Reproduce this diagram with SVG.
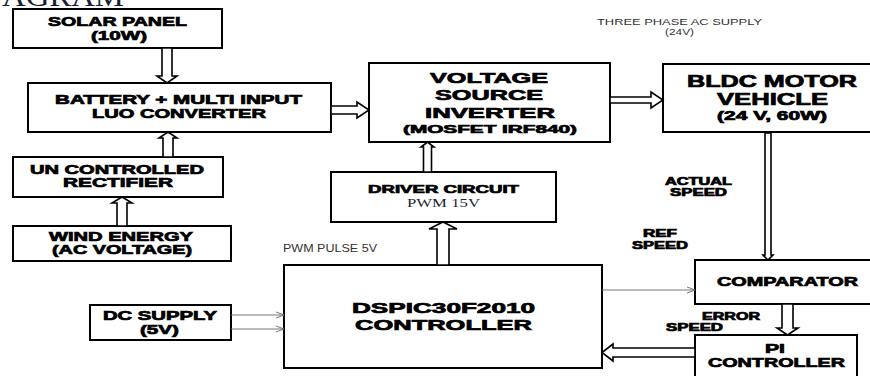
<svg xmlns="http://www.w3.org/2000/svg" width="870" height="376" viewBox="0 0 870 376">
<defs>
<style>
.box{fill:#fff;stroke:#000;stroke-width:2}
.blk{fill:#fff;stroke:#000;stroke-width:1.6;stroke-linejoin:miter}
.thin{fill:none;stroke:#666;stroke-width:0.9}
.b{font-family:"Liberation Sans",Arial,sans-serif;font-weight:bold;fill:#000;stroke:#000;stroke-width:0.7}
.r{font-family:"Liberation Sans",Arial,sans-serif;fill:#333}
.s{font-family:"Liberation Serif","Times New Roman",serif;fill:#1a1f33}
</style>
<marker id="open" markerWidth="10" markerHeight="8" refX="9" refY="4" orient="auto" markerUnits="userSpaceOnUse">
<path d="M1,1 L9,4 L1,7" fill="none" stroke="#666" stroke-width="0.9"/>
</marker>
</defs>
<rect width="870" height="376" fill="#fff"/>
<text class="s" x="2" y="6" font-size="30" textLength="122" lengthAdjust="spacingAndGlyphs" fill="#000">AGRAM</text>

<g id="solar">
<rect class="box" x="13" y="9" width="209" height="39"/>
<text class="b" x="48" y="26" font-size="13" textLength="139" lengthAdjust="spacingAndGlyphs">SOLAR PANEL</text>
<text class="b" x="91" y="40" font-size="13" textLength="56" lengthAdjust="spacingAndGlyphs">(10W)</text>
</g>
<g id="battery">
<rect class="box" x="28" y="83" width="303" height="49"/>
<text class="b" x="55" y="104" font-size="12.5" textLength="247" lengthAdjust="spacingAndGlyphs">BATTERY + MULTI INPUT</text>
<text class="b" x="92" y="118" font-size="12.5" textLength="174" lengthAdjust="spacingAndGlyphs">LUO CONVERTER</text>
</g>
<g id="rectifier">
<rect class="box" x="13" y="157" width="210" height="40"/>
<text class="b" x="30" y="174" font-size="12.5" textLength="174" lengthAdjust="spacingAndGlyphs">UN CONTROLLED</text>
<text class="b" x="63" y="187" font-size="12.5" textLength="110" lengthAdjust="spacingAndGlyphs">RECTIFIER</text>
</g>
<g id="wind">
<rect class="box" x="13" y="226" width="218" height="35"/>
<text class="b" x="49" y="241" font-size="12.5" textLength="144" lengthAdjust="spacingAndGlyphs">WIND ENERGY</text>
<text class="b" x="52" y="254" font-size="12.5" textLength="140" lengthAdjust="spacingAndGlyphs">(AC VOLTAGE)</text>
</g>
<g id="dcsupply">
<rect class="box" x="90" y="305" width="141" height="35"/>
<text class="b" x="103" y="320" font-size="12.5" textLength="114" lengthAdjust="spacingAndGlyphs">DC SUPPLY</text>
<text class="b" x="140" y="334" font-size="12.5" textLength="39" lengthAdjust="spacingAndGlyphs">(5V)</text>
</g>
<g id="vsi">
<rect class="box" x="369" y="63" width="241" height="79"/>
<text class="b" x="430" y="83" font-size="15" textLength="118" lengthAdjust="spacingAndGlyphs">VOLTAGE</text>
<text class="b" x="435" y="100" font-size="15" textLength="108" lengthAdjust="spacingAndGlyphs">SOURCE</text>
<text class="b" x="425" y="118" font-size="15" textLength="130" lengthAdjust="spacingAndGlyphs">INVERTER</text>
<text class="b" x="403" y="133" font-size="11.5" textLength="174" lengthAdjust="spacingAndGlyphs">(MOSFET IRF840)</text>
</g>
<g id="driver">
<rect class="box" x="331" y="172" width="225" height="50"/>
<text class="b" x="368" y="193" font-size="11" textLength="151" lengthAdjust="spacingAndGlyphs">DRIVER CIRCUIT</text>
<text class="s" x="407" y="207" font-size="11.5" textLength="73" lengthAdjust="spacingAndGlyphs">PWM 15V</text>
</g>
<g id="dspic">
<rect class="box" x="284" y="265" width="318" height="103"/>
<text class="b" x="352" y="313" font-size="15" textLength="183" lengthAdjust="spacingAndGlyphs">DSPIC30F2010</text>
<text class="b" x="355" y="330" font-size="15" textLength="177" lengthAdjust="spacingAndGlyphs">CONTROLLER</text>
</g>
<g id="bldc">
<rect class="box" x="663" y="64" width="220" height="68"/>
<text class="b" x="687" y="87" font-size="16" textLength="170" lengthAdjust="spacingAndGlyphs">BLDC MOTOR</text>
<text class="b" x="717" y="105" font-size="16" textLength="111" lengthAdjust="spacingAndGlyphs">VEHICLE</text>
<text class="b" x="717" y="120" font-size="12" textLength="110" lengthAdjust="spacingAndGlyphs">(24 V, 60W)</text>
</g>
<g id="comparator">
<rect class="box" x="695" y="260" width="190" height="44"/>
<text class="b" x="717" y="286" font-size="12.5" textLength="141" lengthAdjust="spacingAndGlyphs">COMPARATOR</text>
</g>
<g id="pi">
<rect class="box" x="695" y="335" width="162" height="50"/>
<text class="b" x="765" y="353" font-size="12.5" textLength="20" lengthAdjust="spacingAndGlyphs">PI</text>
<text class="b" x="708" y="367" font-size="12.5" textLength="137" lengthAdjust="spacingAndGlyphs">CONTROLLER</text>
</g>

<g id="labels">
<text class="r" x="283" y="252" font-size="10.5" textLength="94" lengthAdjust="spacingAndGlyphs">PWM PULSE 5V</text>
<text class="r" x="597" y="25" font-size="9" textLength="165" lengthAdjust="spacingAndGlyphs">THREE PHASE AC SUPPLY</text>
<text class="r" x="665" y="35" font-size="9" textLength="29" lengthAdjust="spacingAndGlyphs">(24V)</text>
<text class="b" x="665" y="185" font-size="10" textLength="67" lengthAdjust="spacingAndGlyphs">ACTUAL</text>
<text class="b" x="670" y="196" font-size="10" textLength="57" lengthAdjust="spacingAndGlyphs">SPEED</text>
<text class="b" x="643" y="237" font-size="10" textLength="34" lengthAdjust="spacingAndGlyphs">REF</text>
<text class="b" x="632" y="249" font-size="10" textLength="56" lengthAdjust="spacingAndGlyphs">SPEED</text>
<text class="b" x="702" y="320" font-size="10" textLength="58" lengthAdjust="spacingAndGlyphs">ERROR</text>
<text class="b" x="666" y="331" font-size="10" textLength="57" lengthAdjust="spacingAndGlyphs">SPEED</text>
</g>

<g id="connectors">
<polygon class="blk" points="162,48 162,76 157,76 167,83 177,76 172,76 172,48"/>
<polygon class="blk" points="163,157 163,138 159,138 168,132 177,138 173,138 173,157"/>
<polygon class="blk" points="117,226 117,203 112,203 122,197 132,203 127,203 127,226"/>
<polygon class="blk" points="331,106 357,106 357,102 369,110 357,118 357,114 331,114"/>
<polygon class="blk" points="610,97 651,97 651,92 663,100 651,108 651,103 610,103"/>
<polygon class="blk" points="423.5,172 423.5,147 421,147 427.5,142 434,147 431.5,147 431.5,172"/>
<polygon class="blk" points="437,265 437,229 429,229 443,222 457,229 449,229 449,265"/>
<polygon class="blk" points="765,133 765,255 763,255 768,260 773,255 771,255 771,133"/>
<polygon class="blk" points="782,304 782,328 777,328 787.5,335 798,328 793,328 793,304"/>
<polygon class="blk" points="695,348 613,348 613,344 602,352.5 613,361 613,357 695,357"/>
<line class="thin" x1="231" y1="315" x2="284" y2="315" marker-end="url(#open)"/>
<line class="thin" x1="231" y1="329" x2="284" y2="329" marker-end="url(#open)"/>
<line class="thin" x1="602" y1="290" x2="695" y2="290" marker-end="url(#open)"/>
</g>
</svg>
